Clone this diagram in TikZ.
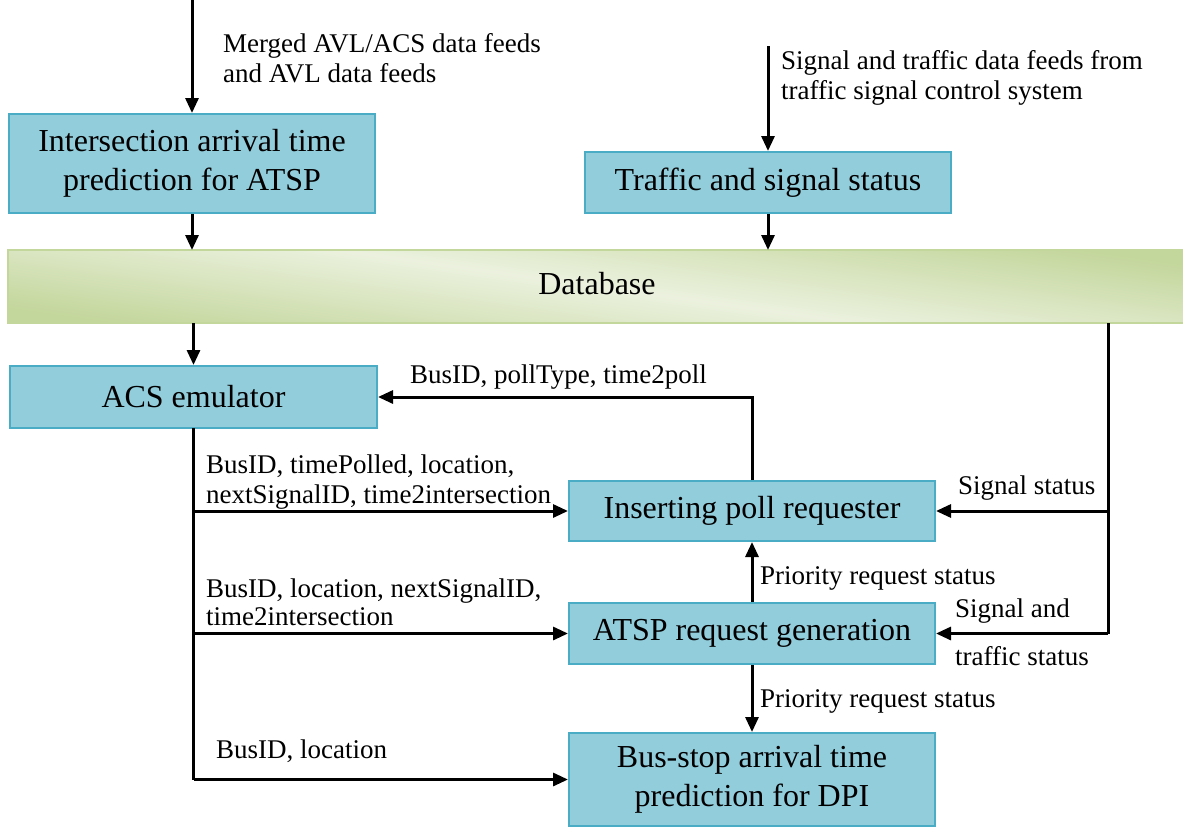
\documentclass[tikz,border=0pt]{standalone}
\usepackage{fontspec}
\setmainfont{Liberation Serif}
\usetikzlibrary{arrows.meta,calc}
\definecolor{boxfill}{HTML}{92CDDC}
\definecolor{boxline}{HTML}{4BACC6}
\definecolor{dbdark}{HTML}{C3D69B}
\definecolor{dblight}{HTML}{EBF1DE}
\begin{document}
\begin{tikzpicture}[x=1pt,y=-1pt,
  proc/.style={draw=boxline,fill=boxfill,line width=2pt,inner sep=0pt,align=center,
    font=\fontsize{32}{39}\selectfont},
  lbl/.style={anchor=base west,inner sep=0pt,font=\fontsize{27}{29}\selectfont},
  flow/.style={line width=3pt,-{Triangle[length=15pt,width=13pt]}},
  wire/.style={line width=3pt}]
\useasboundingbox (0,0) rectangle (1183,827);
% database bar
\shade[top color=dbdark, bottom color=dbdark, middle color=dblight, shading angle=-8]
  (8,250) rectangle (1190,323);
\draw[dbdark,line width=1.5pt] (1190,250) -- (8,250) -- (8,323) -- (1190,323);
\node (db) at (597,284) [font=\fontsize{32}{39}\selectfont,inner sep=0pt] {Database};
% boxes
\node[proc,minimum width=366pt,minimum height=99pt] (iat) at (192,163.5) {Intersection arrival time\\prediction for ATSP};
\node[proc,minimum width=366pt,minimum height=61pt] (tss) at (768,182.5) {Traffic and signal status};
\node[proc,minimum width=367pt,minimum height=62pt] (acs) at (193.5,397) {ACS emulator};
\node[proc,minimum width=366pt,minimum height=60pt] (ipr) at (752,511) {Inserting poll requester};
\node[proc,minimum width=366pt,minimum height=61pt] (atsp) at (752,633.5) {ATSP request generation};
\node[proc,minimum width=366pt,minimum height=93pt] (bus) at (752,779.5) {Bus-stop arrival time\\prediction for DPI};
% free ends
\coordinate (in1) at (192,0);
\coordinate (in2) at (768,46);
\coordinate (rtop) at (1108,323);
\coordinate (rbot) at (1108,633.5);
\coordinate (ltop) at (193.5,428);
\coordinate (lbot) at (193.5,779.5);
% connectors
\draw[flow] (in1) -- (in1 |- iat.north);
\draw[flow] (in2) -- (in2 |- tss.north);
\draw[flow] (iat.south) -- (iat.south |- 0,250);
\draw[flow] (tss.south) -- (tss.south |- 0,250);
\draw[flow] (acs.north |- 0,323) -- (acs.north);
\draw[wire] (rtop) -- (rbot);
\draw[flow] (rbot) -- (atsp.east);
\draw[flow] (rtop |- ipr.east) -- (ipr.east);
\draw[wire] (ltop) -- (lbot);
\draw[flow] (lbot) -- (bus.west);
\draw[flow] (ltop |- ipr.west) -- (ipr.west);
\draw[flow] (ltop |- atsp.west) -- (atsp.west);
\draw[flow] (ipr.north) |- (acs.east);
\draw[flow] (atsp.north) -- (ipr.south);
\draw[flow] (atsp.south) -- (bus.north);
% labels
\node[lbl] (l1a) at (223,52) {Merged AVL/ACS data feeds};
\node[lbl] (l1b) at (223,82) {and AVL data feeds};
\node[lbl] (l2a) at (781,69) {Signal and traffic data feeds from};
\node[lbl] (l2b) at (781,99) {traffic signal control system};
\node[lbl] (l3) at (410,383) {BusID, pollType, time2poll};
\node[lbl] (l4a) at (206,473) {BusID, timePolled, location,};
\node[lbl] (l4b) at (206,503) {nextSignalID, time2intersection};
\node[lbl] (l5a) at (206,597) {BusID, location, nextSignalID,};
\node[lbl] (l5b) at (206,625) {time2intersection};
\node[lbl] (l6) at (216,758) {BusID, location};
\node[lbl] (l7) at (958,494) {Signal status};
\node[lbl] (l8a) at (955,617) {Signal and};
\node[lbl] (l8b) at (955,665) {traffic status};
\node[lbl] (l9) at (760,584) {Priority request status};
\node[lbl] (l10) at (760,707) {Priority request status};
\end{tikzpicture}
\end{document}
